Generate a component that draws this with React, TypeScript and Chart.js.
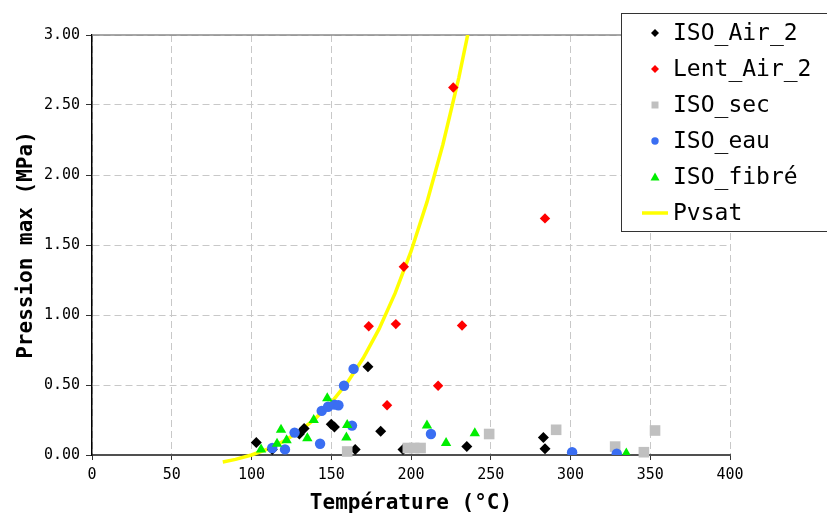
import React, { useEffect, useRef } from 'react';
import { Chart, registerables } from 'chart.js';
Chart.register(...registerables);

// ---- data ----
const airT = [103, 113, 130, 133, 150, 152, 165, 173, 181, 195, 235, 283, 284];
const airP = [0.09, 0.04, 0.15, 0.19, 0.22, 0.2, 0.04, 0.63, 0.17, 0.04, 0.06, 0.125, 0.045];

const lentT = [173.5, 185, 190.5, 195.5, 217, 226.5, 232, 284];
const lentP = [0.92, 0.355, 0.935, 1.345, 0.495, 2.625, 0.925, 1.69];

const secT = [160, 198, 202, 206, 249, 291, 328, 346, 353];
const secP = [0.025, 0.05, 0.05, 0.05, 0.15, 0.18, 0.06, 0.02, 0.175];

const eauT = [113, 121, 127, 143, 144, 148, 152, 154.5, 158, 163, 164, 212.5, 301, 329];
const eauP = [0.05, 0.04, 0.16, 0.08, 0.315, 0.345, 0.36, 0.355, 0.495, 0.21, 0.615, 0.15, 0.02, 0.01];

const fibT = [106, 116, 118.5, 122, 135, 139, 147.5, 159.5, 160, 210, 222, 240, 335];
const fibP = [0.04, 0.08, 0.18, 0.105, 0.12, 0.25, 0.405, 0.125, 0.215, 0.21, 0.085, 0.155, 0.01];

const pvsatT = [82, 90, 100, 110, 120, 130, 140, 150, 160, 170, 180, 190, 200, 210, 220, 230, 240];
const pvsatP = [-0.05, -0.031, 0.0, 0.042, 0.097, 0.169, 0.26, 0.375, 0.517, 0.691, 0.901, 1.154, 1.454, 1.806, 2.218, 2.696, 3.246];

const xTitle = 'Température (°C)';
const yTitle = 'Pression max (MPa)';

const MONO = "'DejaVu Sans Mono', monospace";

const pts = (xs: number[], ys: number[]) => xs.map((x, i) => ({ x, y: ys[i] }));

const legendItems = [
  { label: 'ISO_Air_2', kind: 'diamond', color: '#000000' },
  { label: 'Lent_Air_2', kind: 'diamond', color: '#ff0000' },
  { label: 'ISO_sec', kind: 'square', color: '#c0c0c0' },
  { label: 'ISO_eau', kind: 'circle', color: '#3a6ef2' },
  { label: 'ISO_fibré', kind: 'triangle', color: '#00ee00' },
  { label: 'Pvsat', kind: 'line', color: '#ffff00' },
];

const framePlugin = {
  id: 'frame',
  beforeDatasetsDraw(chart: any) {
    const { ctx, chartArea } = chart;
    ctx.save();
    ctx.strokeStyle = '#8a8a8a';
    ctx.lineWidth = 1.5;
    ctx.beginPath();
    ctx.moveTo(chartArea.left, chartArea.top);
    ctx.lineTo(chartArea.right, chartArea.top);
    ctx.stroke();
    ctx.restore();
  },
};

const legendPlugin = {
  id: 'boxLegend',
  afterDraw(chart: any) {
    const { ctx } = chart;
    const bx = 621.5, by = 13.5, bw = 220, bh = 218;
    ctx.save();
    ctx.fillStyle = '#ffffff';
    ctx.fillRect(bx, by, bw, bh);
    ctx.strokeStyle = '#333333';
    ctx.lineWidth = 1;
    ctx.strokeRect(bx, by, bw, bh);
    const rowY0 = 33, rowDy = 36;
    const mx = 655;
    ctx.font = `23px ${MONO}`;
    ctx.textBaseline = 'middle';
    ctx.textAlign = 'left';
    legendItems.forEach((it, i) => {
      const y = rowY0 + i * rowDy;
      ctx.fillStyle = it.color;
      ctx.beginPath();
      if (it.kind === 'diamond') {
        const r = 4;
        ctx.moveTo(mx, y - r); ctx.lineTo(mx + r, y); ctx.lineTo(mx, y + r); ctx.lineTo(mx - r, y); ctx.closePath(); ctx.fill();
      } else if (it.kind === 'square') {
        ctx.rect(mx - 3.5, y - 3.5, 7, 7); ctx.fill();
      } else if (it.kind === 'circle') {
        ctx.arc(mx, y, 3.7, 0, Math.PI * 2); ctx.fill();
      } else if (it.kind === 'triangle') {
        ctx.moveTo(mx, y - 4.5); ctx.lineTo(mx + 4.5, y + 3.5); ctx.lineTo(mx - 4.5, y + 3.5); ctx.closePath(); ctx.fill();
      } else {
        ctx.strokeStyle = it.color; ctx.lineWidth = 3.5;
        ctx.moveTo(642, y); ctx.lineTo(668, y); ctx.stroke();
      }
      ctx.fillStyle = '#000000';
      ctx.fillText(it.label, 673, y + 1);
    });
    ctx.restore();
  },
};

export default function App() {
  const ref = useRef<HTMLCanvasElement>(null);
  useEffect(() => {
    document.body.style.margin = '0';
    const canvas = ref.current as HTMLCanvasElement;
    const chart = new Chart(canvas, {
      type: 'scatter',
      data: {
        datasets: [
          {
            label: 'ISO_fibré', data: pts(fibT, fibP), order: 1,
            pointStyle: 'triangle', pointRadius: 6, backgroundColor: '#00ee00', borderColor: '#00ee00', borderWidth: 0,
          },
          {
            label: 'ISO_eau', data: pts(eauT, eauP), order: 2,
            pointStyle: 'circle', pointRadius: 5.2, backgroundColor: '#3a6ef2', borderColor: '#3a6ef2', borderWidth: 0,
          },
          {
            label: 'ISO_sec', data: pts(secT, secP), order: 3,
            pointStyle: 'rect', pointRadius: 7.5, backgroundColor: '#c0c0c0', borderColor: '#c0c0c0', borderWidth: 0,
            clip: { left: 0, top: 0, right: 0, bottom: 10 } as any,
          },
          {
            label: 'Lent_Air_2', data: pts(lentT, lentP), order: 4,
            pointStyle: 'rectRot', pointRadius: 5.2, backgroundColor: '#ff0000', borderColor: '#ff0000', borderWidth: 0,
          },
          {
            label: 'ISO_Air_2', data: pts(airT, airP), order: 5,
            pointStyle: 'rectRot', pointRadius: 5.5, backgroundColor: '#000000', borderColor: '#000000', borderWidth: 0,
          },
          {
            label: 'Pvsat', data: pts(pvsatT, pvsatP), order: 6, showLine: true,
            pointRadius: 0, borderColor: '#ffff00', backgroundColor: '#ffff00', borderWidth: 3.5, tension: 0,
            clip: { left: 0, top: 0, right: 0, bottom: 10 } as any,
          },
        ] as any,
      },
      options: {
        animation: false,
        responsive: false,
        events: [],
        layout: { padding: { left: 0, top: 35, right: 97, bottom: 0 } },
        plugins: { legend: { display: false }, tooltip: { enabled: false } },
        scales: {
          x: {
            type: 'linear', min: 0, max: 400,
            ticks: { stepSize: 50, color: '#000', font: { family: MONO, size: 15 }, padding: 6, maxRotation: 0 },
            grid: { color: '#c8c8c8', lineWidth: 1, tickColor: '#333', tickLength: 5 },
            border: { color: '#505050', width: 2, dash: [7, 4] },
            title: { display: true, text: xTitle, color: '#000', font: { family: MONO, size: 21, weight: 'bold', lineHeight: 1 }, padding: { top: 0, bottom: 1 } },
            afterFit: (s: any) => { s.height = 60; },
          },
          y: {
            type: 'linear', min: 0, max: 3,
            ticks: { stepSize: 0.5, color: '#000', font: { family: MONO, size: 15 }, padding: 6, callback: (v: any) => Number(v).toFixed(2) },
            grid: { color: '#c8c8c8', lineWidth: 1, tickColor: '#333', tickLength: 6 },
            border: { color: '#000', width: 1.5, dash: [7, 4] },
            title: { display: true, text: yTitle, color: '#000', font: { family: MONO, size: 21, weight: 'bold', lineHeight: 1 }, padding: { top: 16, bottom: 0 } },
            afterFit: (s: any) => { s.width = 92; },
          },
        },
      } as any,
      plugins: [framePlugin, legendPlugin],
    });
    return () => chart.destroy();
  }, []);
  return (
    <div style={{ position: 'absolute', left: 0, top: 0, width: 827, height: 515 }}>
      <canvas ref={ref} width={827} height={515} style={{ display: 'block', width: 827, height: 515 }} />
    </div>
  );
}
